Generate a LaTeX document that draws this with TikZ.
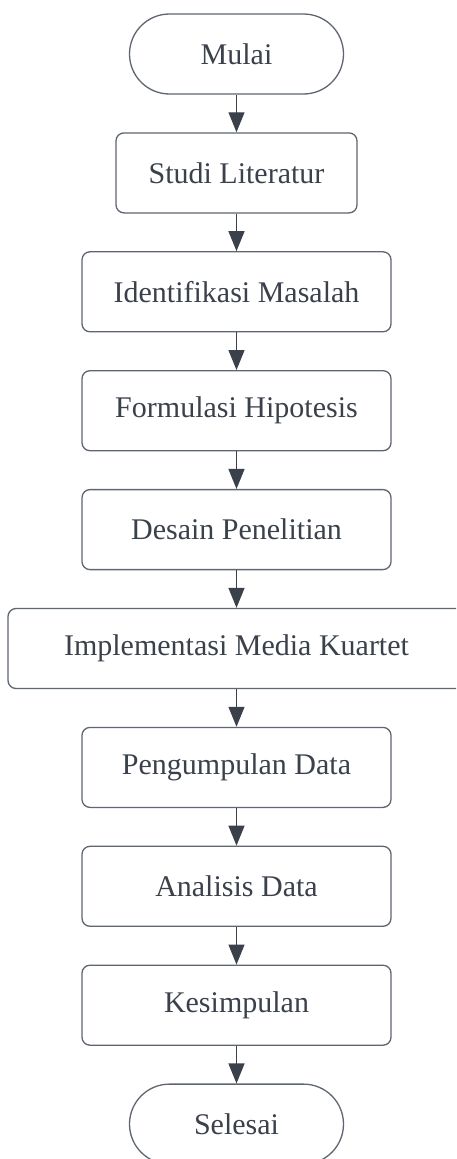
\documentclass[tikz,border=0pt]{standalone}
\usepackage{fontspec}
\setmainfont{Liberation Serif}
\usetikzlibrary{arrows.meta}
\definecolor{edgecol}{HTML}{5F6670}
\definecolor{txtcol}{HTML}{3B414B}
\definecolor{arrcol}{HTML}{3B414B}
\begin{document}
\begin{tikzpicture}[x=1pt,y=-1pt,
  stepbox/.style={draw=edgecol, line width=1.3pt, rounded corners=8pt, minimum height=80pt,
    text=txtcol, font=\fontsize{30}{34}\selectfont, inner sep=0pt, fill=white},
  term/.style={stepbox, rounded corners=40pt},
  flow/.style={draw=arrcol, line width=1.3pt, -{Triangle[length=20pt,width=16pt]}}]
\clip (0,0) rectangle (456,1159);
\useasboundingbox (0,0) rectangle (456,1159);
\fill[white] (0,0) rectangle (456,1159);
\node[term, minimum width=214pt] (n0) at (236.5,54) {Mulai};
\node[stepbox, minimum width=241pt] (n1) at (236.5,172.9) {Studi Literatur};
\node[stepbox, minimum width=309pt] (n2) at (236.5,291.8) {Identifikasi Masalah};
\node[stepbox, minimum width=309pt] (n3) at (236.5,410.7) {Formulasi Hipotesis};
\node[stepbox, minimum width=309pt] (n4) at (236.5,529.6) {Desain Penelitian};
\node[stepbox, minimum width=457pt] (n5) at (236.5,648.5) {Implementasi Media Kuartet};
\node[stepbox, minimum width=309pt] (n6) at (236.5,767.4) {Pengumpulan Data};
\node[stepbox, minimum width=309pt] (n7) at (236.5,886.3) {Analisis Data};
\node[stepbox, minimum width=309pt] (n8) at (236.5,1005.2) {Kesimpulan};
\node[term, minimum width=214pt] (n9) at (236.5,1124.1) {Selesai};
\foreach \a/\b in {n0/n1,n1/n2,n2/n3,n3/n4,n4/n5,n5/n6,n6/n7,n7/n8,n8/n9}
  \draw[flow] (\a.south) -- (\b.north);
\end{tikzpicture}
\end{document}
